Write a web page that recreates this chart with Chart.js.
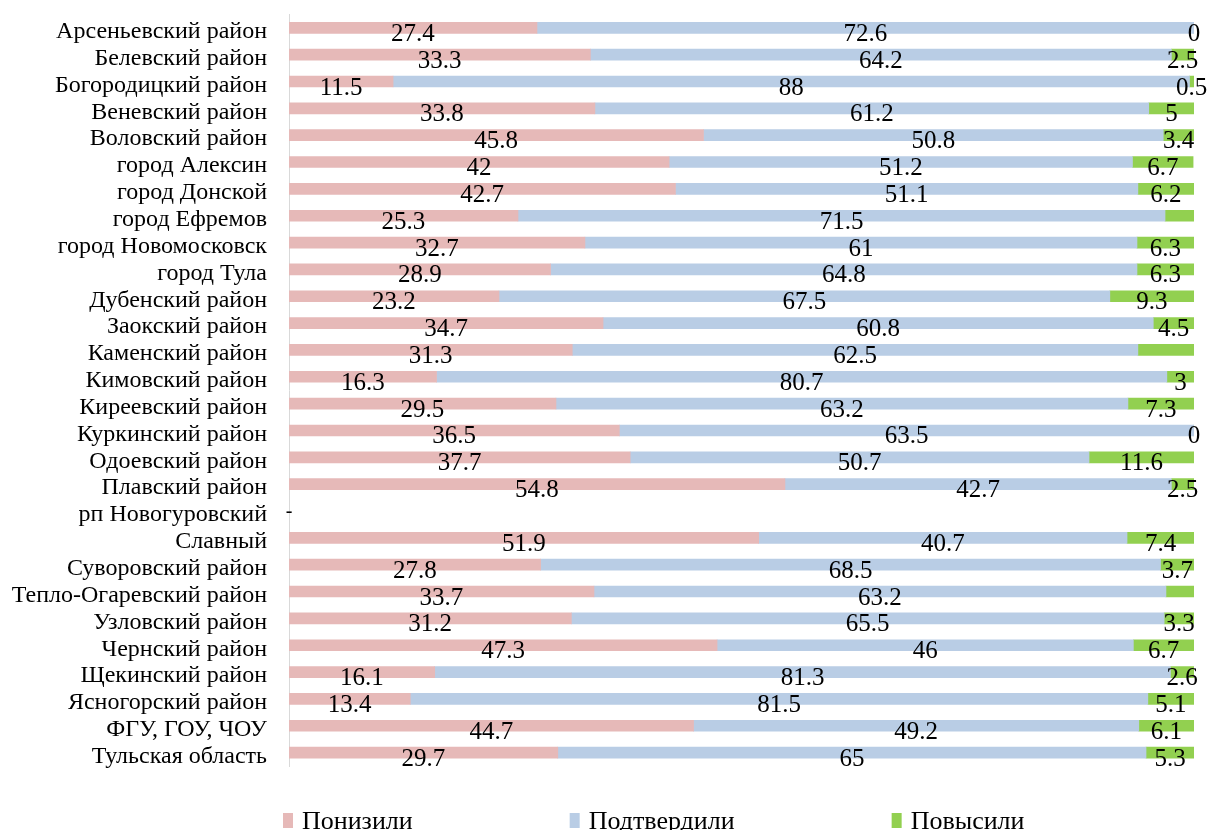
<!DOCTYPE html>
<html>
<head>
<meta charset="utf-8">
<script src="https://cdn.jsdelivr.net/npm/chart.js@4"></script>
<style>
  html, body { margin: 0; padding: 0; background: #fff; }
  #wrap { width: 1209px; height: 830px; }
</style>
</head>
<body>
<div id="wrap"><canvas id="chart" width="1209" height="830"></canvas></div>
<script>
// ---- data ----
const districts = [
  "Арсеньевский район", "Белевский район", "Богородицкий район", "Веневский район",
  "Воловский район", "город Алексин", "город Донской", "город Ефремов",
  "город Новомосковск", "город Тула", "Дубенский район", "Заокский район",
  "Каменский район", "Кимовский район", "Киреевский район", "Куркинский район",
  "Одоевский район", "Плавский район", "рп Новогуровский", "Славный",
  "Суворовский район", "Тепло-Огаревский район", "Узловский район", "Чернский район",
  "Щекинский район", "Ясногорский район", "ФГУ, ГОУ, ЧОУ", "Тульская область"
];
const lowered   = [27.4, 33.3, 11.5, 33.8, 45.8, 42, 42.7, 25.3, 32.7, 28.9, 23.2, 34.7, 31.3, 16.3, 29.5, 36.5, 37.7, 54.8, null, 51.9, 27.8, 33.7, 31.2, 47.3, 16.1, 13.4, 44.7, 29.7];
const confirmed = [72.6, 64.2, 88, 61.2, 50.8, 51.2, 51.1, 71.5, 61, 64.8, 67.5, 60.8, 62.5, 80.7, 63.2, 63.5, 50.7, 42.7, null, 40.7, 68.5, 63.2, 65.5, 46, 81.3, 81.5, 49.2, 65];
const raised    = [0, 2.5, 0.5, 5, 3.4, 6.7, 6.2, 3.2, 6.3, 6.3, 9.3, 4.5, 6.2, 3, 7.3, 0, 11.6, 2.5, null, 7.4, 3.7, 3.1, 3.3, 6.7, 2.6, 5.1, 6.1, 5.3];
// rows whose "Повысили" value has no printed label in the original
const raisedUnlabeled = ["город Ефремов", "Каменский район", "Тепло-Огаревский район"];

const seriesNames = ["Понизили", "Подтвердили", "Повысили"];
const colors = ["#e6b9b8", "#b9cde5", "#92d050"];

const FONT = "'Liberation Serif', 'DejaVu Serif', serif";

// value labels centred on each segment, sitting a bit low like the original
const valueLabels = {
  id: "valueLabels",
  afterDatasetsDraw(chart) {
    const ctx = chart.ctx;
    ctx.save();
    ctx.fillStyle = "#000";
    ctx.font = "25px " + FONT;
    ctx.textAlign = "center";
    ctx.textBaseline = "alphabetic";
    chart.data.datasets.forEach((ds, di) => {
      const meta = chart.getDatasetMeta(di);
      meta.data.forEach((bar, i) => {
        const v = ds.data[i];
        if (v === null || v === undefined) return;
        if (di === 2 && raisedUnlabeled.includes(districts[i])) return;
        const c = bar.getCenterPoint();
        ctx.fillText(String(v), c.x, c.y + 13);
      });
    });
    // empty row gets a dash at the axis
    const xs = chart.scales.x, ys = chart.scales.y;
    lowered.forEach((v, i) => {
      if (v === null) {
        ctx.font = "20px " + FONT;
        ctx.fillText("-", xs.getPixelForValue(0), ys.getPixelForValue(i) + 6);
      }
    });
    ctx.restore();
  }
};

// legend spread along the bottom
const bottomLegend = {
  id: "bottomLegend",
  afterDraw(chart) {
    const ctx = chart.ctx;
    ctx.save();
    ctx.font = "26px " + FONT;
    ctx.textBaseline = "alphabetic";
    ctx.textAlign = "left";
    let x = 283;
    chart.data.datasets.forEach((ds) => {
      ctx.fillStyle = ds.backgroundColor;
      ctx.fillRect(x, 813, 10, 15);
      ctx.fillStyle = "#000";
      ctx.fillText(ds.label, x + 19, 829);
      x += 19 + ctx.measureText(ds.label).width + 157;
    });
    ctx.restore();
  }
};

new Chart(document.getElementById("chart"), {
  type: "bar",
  data: {
    labels: districts,
    datasets: [
      { label: seriesNames[0], data: lowered, backgroundColor: colors[0] },
      { label: seriesNames[1], data: confirmed, backgroundColor: colors[1] },
      { label: seriesNames[2], data: raised, backgroundColor: colors[2] }
    ]
  },
  options: {
    indexAxis: "y",
    responsive: false,
    animation: false,
    barThickness: 11,
    layout: { padding: { top: 13, right: 15, bottom: 64, left: 0 } },
    plugins: { legend: { display: false }, tooltip: { enabled: false } },
    scales: {
      x: {
        stacked: true, min: 0, max: 100, display: false
      },
      y: {
        stacked: true,
        afterFit(scale) { scale.width = 289; },
        grid: { display: false, drawTicks: true, tickLength: 22 },
        border: { display: true, color: "#d9d9d9", width: 1 },
        ticks: {
          color: "#000",
          padding: 0,
          labelOffset: 4,
          autoSkip: false,
          font: { family: FONT, size: 24 }
        }
      }
    }
  },
  plugins: [valueLabels, bottomLegend]
});
</script>
</body>
</html>
